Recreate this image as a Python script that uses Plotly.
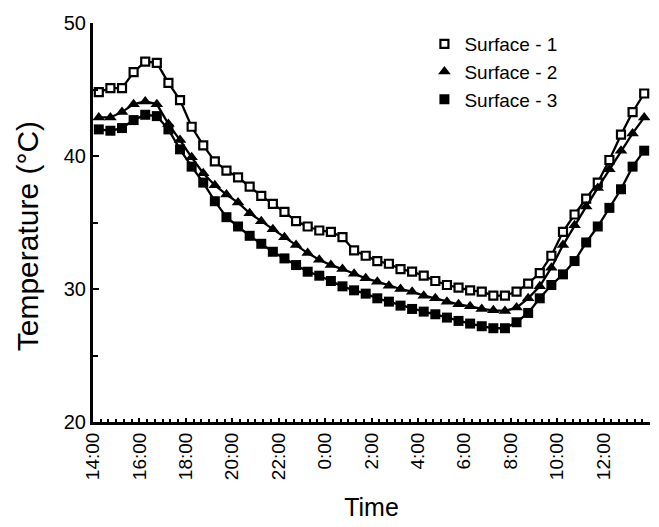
import plotly.graph_objects as go

# Sample times (every 30 min, starting 14:15 on day 1)
times = ["14:15", "14:45", "15:15", "15:45", "16:15", "16:45", "17:15", "17:45",
         "18:15", "18:45", "19:15", "19:45", "20:15", "20:45", "21:15", "21:45",
         "22:15", "22:45", "23:15", "23:45", "0:15", "0:45", "1:15", "1:45",
         "2:15", "2:45", "3:15", "3:45", "4:15", "4:45", "5:15", "5:45",
         "6:15", "6:45", "7:15", "7:45", "8:15", "8:45", "9:15", "9:45",
         "10:15", "10:45", "11:15", "11:45", "12:15", "12:45", "13:15", "13:45"]

surface1 = [44.8, 45.1, 45.1, 46.3, 47.1, 47.0, 45.5, 44.2, 42.2, 40.8,
            39.6, 38.9, 38.4, 37.7, 37.0, 36.4, 35.8, 35.1, 34.7, 34.4,
            34.3, 33.9, 32.9, 32.5, 32.1, 31.9, 31.5, 31.3, 31.0, 30.6,
            30.3, 30.1, 29.9, 29.8, 29.5, 29.5, 29.8, 30.4, 31.2, 32.5,
            34.3, 35.6, 36.8, 38.0, 39.7, 41.6, 43.3, 44.7]

surface2 = [42.9, 42.9, 43.3, 43.9, 44.1, 43.9, 42.4, 41.2, 39.9, 38.7,
            37.8, 37.1, 36.5, 35.7, 35.1, 34.5, 33.9, 33.3, 32.7, 32.2,
            31.8, 31.5, 31.15, 30.8, 30.55, 30.25, 30.0, 29.8, 29.5, 29.3,
            29.05, 28.85, 28.7, 28.5, 28.4, 28.35, 28.6, 29.3, 30.2, 31.6,
            33.3, 34.8, 36.2, 37.6, 39.0, 40.4, 41.7, 42.9]

surface3 = [42.0, 41.9, 42.1, 42.7, 43.1, 43.0, 42.0, 40.5, 39.2, 38.0,
            36.6, 35.4, 34.7, 34.0, 33.4, 32.8, 32.3, 31.8, 31.3, 31.0,
            30.6, 30.2, 29.9, 29.65, 29.3, 29.05, 28.75, 28.5, 28.3, 28.1,
            27.85, 27.6, 27.4, 27.2, 27.05, 27.05, 27.5, 28.2, 29.3, 30.3,
            31.1, 32.1, 33.5, 34.7, 36.1, 37.5, 39.2, 40.4]

tick_labels = ["14:00", "16:00", "18:00", "20:00", "22:00", "0:00",
               "2:00", "4:00", "6:00", "8:00", "10:00", "12:00"]
series_names = ["Surface - 1", "Surface - 2", "Surface - 3"]


def to_hours(t, start=14):
    h, m = t.split(":")
    v = int(h) + int(m) / 60.0 - start
    return v + 24 if v < 0 else v


x = [to_hours(t) for t in times]
tickvals = [to_hours(t) for t in tick_labels]

styles = [
    dict(symbol="square", color="white", line=dict(color="black", width=2.2), size=8),
    dict(symbol="triangle-up", color="black", line=dict(color="black", width=0), size=11),
    dict(symbol="square", color="black", line=dict(color="black", width=0), size=10),
]

fig = go.Figure()
for name, vals, st in zip(series_names, [surface1, surface2, surface3], styles):
    fig.add_trace(go.Scatter(x=x, y=vals, mode="lines+markers", name=name,
                             line=dict(color="black", width=2.3),
                             marker=st, showlegend=False))
for name, st in zip(series_names, styles):
    fig.add_trace(go.Scatter(x=[None], y=[None], mode="markers", name=name,
                             marker=st, showlegend=True))

font = "Liberation Sans, Arial, sans-serif"
fig.update_layout(
    width=659, height=527,
    margin=dict(l=93, r=9, t=23, b=103),
    paper_bgcolor="white", plot_bgcolor="white",
    font=dict(family=font, color="black"),
    legend=dict(x=0.595, y=0.995, xanchor="left", yanchor="top",
                font=dict(size=19, family=font), bgcolor="rgba(0,0,0,0)",
                itemwidth=30, tracegroupgap=0),
    xaxis=dict(range=[0, 24], tickvals=tickvals, ticktext=tick_labels,
               tickangle=-90, tickfont=dict(size=19),
               showline=True, linecolor="black", linewidth=3,
               ticks="inside", ticklen=4, tickwidth=2, tickcolor="black",
               minor=dict(dtick=1/3, tick0=0, ticks="inside", ticklen=3,
                          tickwidth=2, tickcolor="black"),
               showgrid=False, zeroline=False,
               title=dict(text="Time", font=dict(size=25), standoff=20)),
    yaxis=dict(range=[20, 50], tickvals=[20, 30, 40, 50],
               tickfont=dict(size=20),
               showline=True, linecolor="black", linewidth=3,
               ticks="inside", ticklen=6, tickwidth=2, tickcolor="black",
               minor=dict(dtick=5, tick0=0, ticks="inside", ticklen=5,
                          tickwidth=2, tickcolor="black"),
               showgrid=False, zeroline=False),
    annotations=[dict(text="Temperature (°C)", textangle=-90,
                      xref="paper", yref="paper",
                      x=-0.117, y=0.465, xanchor="center", yanchor="middle",
                      showarrow=False, font=dict(size=30, family=font))],
)

fig.write_html("out.html")
